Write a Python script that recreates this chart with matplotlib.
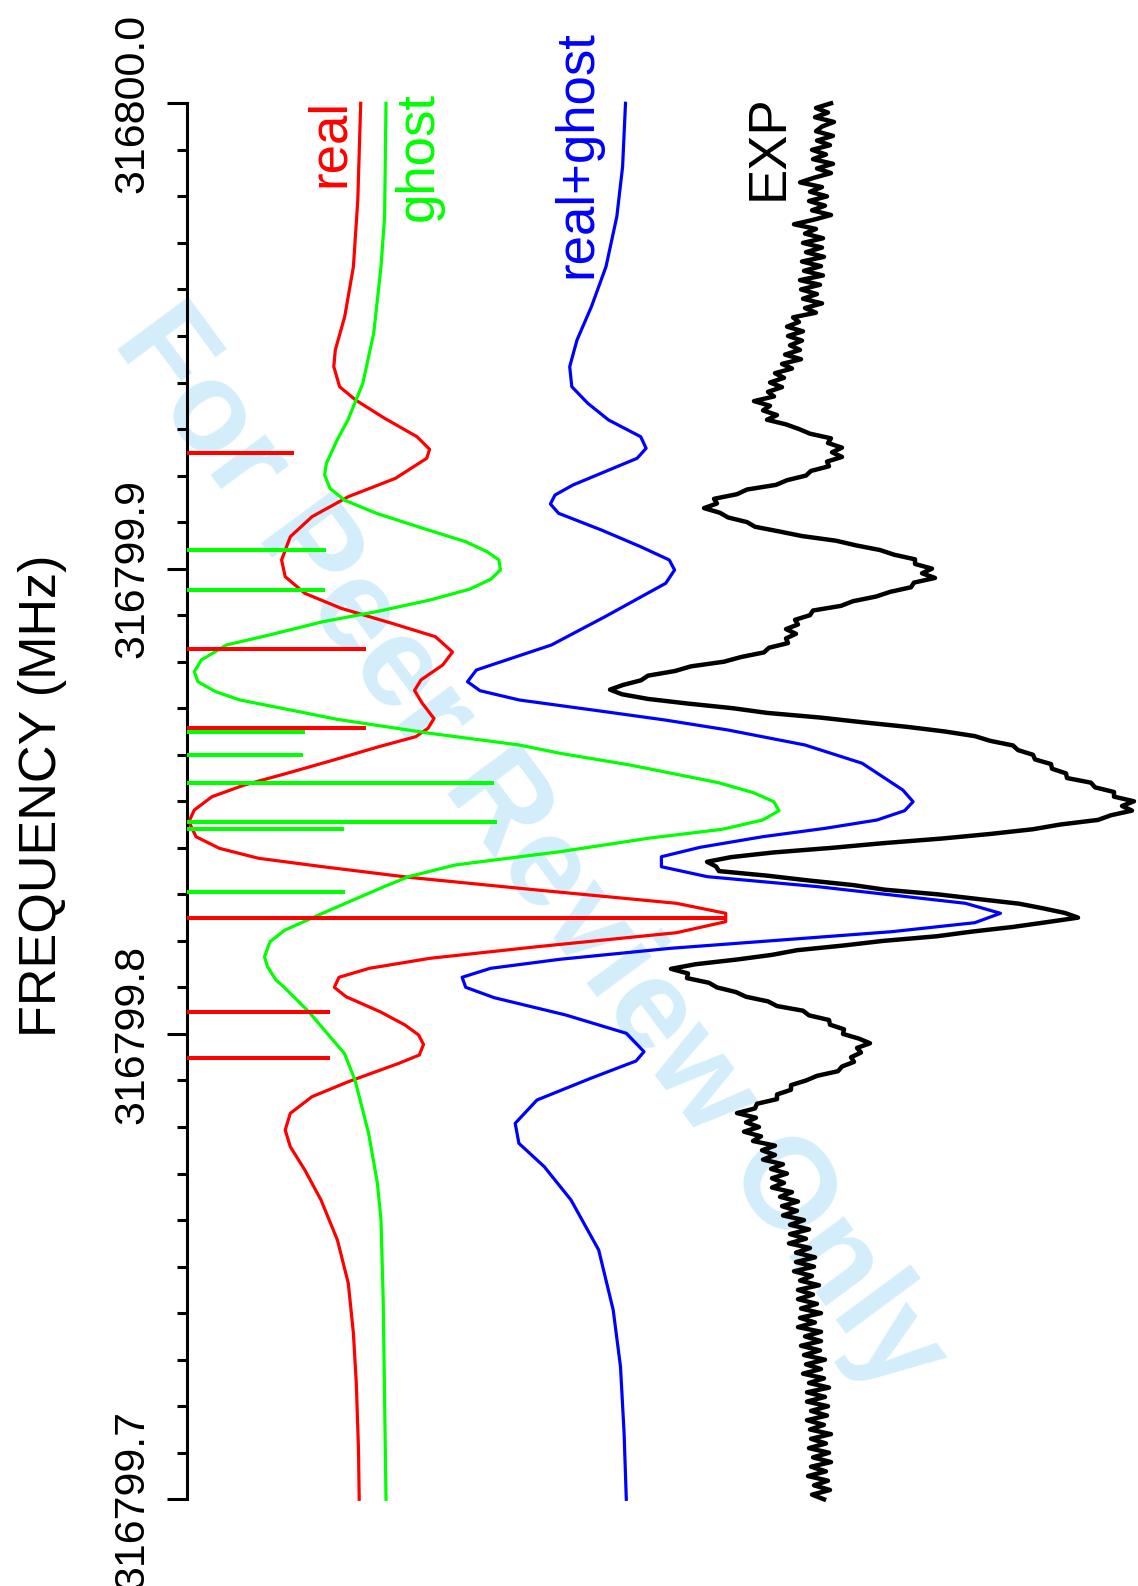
import numpy as np
import matplotlib
matplotlib.use("Agg")
import matplotlib.pyplot as plt
from matplotlib import font_manager
from matplotlib.ticker import FixedLocator, FixedFormatter

# ---------------- data ----------------
freq_min, freq_max = 316799.7, 316800.0
major_ticks = [316799.7, 316799.8, 316799.9, 316800.0]
tick_labels = ["316799.7", "316799.8", "316799.9", "316800.0"]
minor_ticks = [316799.70 + 0.01 * k for k in range(31)]

trace_names = ["real", "ghost", "real+ghost", "EXP"]
trace_colors = ["#ff0000", "#00ff00", "#0000ff", "#000000"]
trace_offsets = [173.5, 199.5, 439.5, 633.5]   # stacking offsets (a.u.)

real_spectrum = [
    (316800.00000, 0.7), (316799.97922, -2.2), (316799.96489, -6.6), (316799.95414, -15.3),
    (316799.94698, -24.7), (316799.94340, -26.2), (316799.93910, -20.4), (316799.93624, -4.4),
    (316799.93231, 24.6), (316799.92835, 57.0), (316799.92564, 69.6), (316799.92371, 66.7),
    (316799.91941, 35.5), (316799.91546, -11.7), (316799.91116, -48.0), (316799.90686, -69.7),
    (316799.90186, -78.4), (316799.89827, -74.8), (316799.89470, -55.2), (316799.89148, -19.0),
    (316799.88825, 31.9), (316799.88537, 75.4), (316799.88208, 92.5), (316799.87929, 82.7),
    (316799.87607, 60.9), (316799.87381, 54.5), (316799.87106, 62.3), (316799.86779, 74.0),
    (316799.86569, 68.0), (316799.86388, 55.7), (316799.86173, 18.7), (316799.85887, -26.4),
    (316799.85602, -73.0), (316799.85350, -115.7), (316799.85099, -148.0), (316799.84813, -165.7),
    (316799.84562, -171.1), (316799.84239, -164.0), (316799.83990, -140.7), (316799.83775, -101.4),
    (316799.83594, -37.1), (316799.83367, 48.6), (316799.83094, 177.0), (316799.82808, 316.4),
    (316799.82593, 365.7), (316799.82413, 365.7), (316799.82176, 316.4), (316799.81875, 177.0),
    (316799.81626, 70.0), (316799.81411, 9.3), (316799.81218, -21.0), (316799.81003, -25.7),
    (316799.80801, -14.0), (316799.80479, 20.0), (316799.80193, 45.0), (316799.79978, 58.6),
    (316799.79774, 63.5), (316799.79548, 59.3), (316799.79370, 39.0), (316799.78974, -11.7),
    (316799.78652, -48.0), (316799.78295, -69.7), (316799.77936, -74.8), (316799.77577, -69.7),
    (316799.77077, -55.2), (316799.76432, -39.0), (316799.75572, -22.6), (316799.74642, -11.7),
    (316799.73567, -6.6), (316799.72493, -3.7), (316799.71059, -1.5), (316799.70000, -0.8),
]

ghost_spectrum = [
    (316800.00000, 0.0), (316799.97563, -1.4), (316799.96489, -5.0), (316799.95057, -12.3),
    (316799.93983, -23.2), (316799.93194, -38.1), (316799.92764, -48.9), (316799.92264, -59.6),
    (316799.92012, -61.4), (316799.91726, -56.0), (316799.91475, -41.7), (316799.91189, -9.6),
    (316799.90867, 36.9), (316799.90579, 79.7), (316799.90364, 101.1), (316799.90186, 112.9),
    (316799.89971, 114.4), (316799.89771, 104.7), (316799.89556, 83.3), (316799.89326, 44.0),
    (316799.89075, -9.6), (316799.88860, -63.1), (316799.88574, -116.7), (316799.88359, -159.6),
    (316799.88037, -184.6), (316799.87785, -191.7), (316799.87570, -188.1), (316799.87355, -170.3),
    (316799.87177, -146.0), (316799.86977, -98.9), (316799.86762, -49.0), (316799.86461, 44.0),
    (316799.86210, 133.3), (316799.86032, 174.0), (316799.85780, 244.0), (316799.85400, 332.5),
    (316799.85185, 367.5), (316799.84991, 387.8), (316799.84798, 393.0), (316799.84598, 376.7),
    (316799.84398, 336.2), (316799.84211, 264.0), (316799.83917, 174.0), (316799.83631, 69.0),
    (316799.83380, 22.6), (316799.83165, -2.0), (316799.82664, -56.0), (316799.82234, -101.0),
    (316799.81983, -116.0), (316799.81660, -121.5), (316799.81446, -118.5), (316799.81160, -110.0),
    (316799.81016, -102.4), (316799.80472, -77.0), (316799.79941, -56.0), (316799.79585, -41.7),
    (316799.79011, -31.0), (316799.77865, -17.4), (316799.76791, -8.6), (316799.76002, -5.0),
    (316799.74283, -2.8), (316799.70000, 0.0),
]

sum_spectrum = [
    (316800.00000, -0.5), (316799.98638, -3.4), (316799.97563, -9.2), (316799.96489, -20.0),
    (316799.95629, -34.6), (316799.94913, -49.0), (316799.94340, -56.3), (316799.93910, -54.2),
    (316799.93553, -38.2), (316799.93194, -17.4), (316799.92835, 14.7), (316799.92586, 20.1),
    (316799.92371, 11.1), (316799.91797, -53.1), (316799.91582, -71.0), (316799.91389, -75.6),
    (316799.91189, -67.4), (316799.90830, -24.6), (316799.90471, 14.7), (316799.90186, 43.3),
    (316799.89971, 48.6), (316799.89685, 39.7), (316799.88967, -21.0), (316799.88359, -74.6),
    (316799.87822, -149.6), (316799.87570, -158.5), (316799.87377, -146.0), (316799.87177, -106.7),
    (316799.86926, -21.0), (316799.86747, 39.0), (316799.86532, 102.0), (316799.86210, 179.0),
    (316799.85817, 236.2), (316799.85243, 276.8), (316799.84991, 287.1), (316799.84798, 278.6),
    (316799.84598, 251.0), (316799.84420, 199.4), (316799.84239, 136.7), (316799.84011, 74.1),
    (316799.83809, 35.4), (316799.83594, 35.4), (316799.83380, 81.4), (316799.83165, 192.0),
    (316799.82808, 339.4), (316799.82593, 374.5), (316799.82391, 348.7), (316799.82198, 265.7),
    (316799.82019, 155.2), (316799.81841, 44.6), (316799.81605, -66.0), (316799.81411, -135.3),
    (316799.81218, -163.9), (316799.81003, -160.3), (316799.80779, -131.7), (316799.80408, -60.3),
    (316799.80014, 0.4), (316799.79619, 18.0), (316799.79419, 10.0), (316799.79047, -35.3),
    (316799.78581, -89.0), (316799.78080, -110.8), (316799.77650, -107.1), (316799.77147, -81.7),
    (316799.76432, -55.0), (316799.75357, -27.3), (316799.74068, -12.8), (316799.72849, -5.5),
    (316799.71418, -1.9), (316799.70000, 0.3),
]

# experimental spectrum, sampled every 0.001 MHz downward from 316800.0 MHz
exp_start, exp_step = 316800.0, 0.001
exp_intensity = [
    11, -4, 8, -5, 14, 2, -4, 13, -3, 10,
    -8, 6, -7, 13, -3, 11, -6, -20, 2, -10,
    7, -11, 5, -8, 11, -6, -26, -4, -15, 3,
    -17, 2, -14, 4, -18, 1, -16, 3, -20, 0,
    -19, -3, -17, 2, -15, -4, -27, -21, -33, -17,
    -32, -18, -30, -20, -35, -19, -38, -28, -45, -36,
    -50, -38, -52, -46, -66, -50, -57, -43, -53, -34,
    -21, -10, 11, 8, 22, 12, 22, 7, 9, -9,
    -14, -33, -44, -73, -83, -106, -103, -116, -100, -92,
    -73, -65, -41, -18, 16, 36, 60, 74, 95, 95,
    112, 102, 115, 94, 91, 70, 56, 33, 21, -7,
    -10, -25, -22, -34, -24, -34, -32, -51, -56, -79,
    -96, -129, -145, -172, -179, -197, -210, -198, -172, -132,
    -87, -53, 0, 42, 87, 125, 155, 170, 193, 198,
    213, 215, 231, 232, 246, 247, 271, 275, 294, 294,
    314, 302, 312, 291, 278, 240, 213, 171, 122, 63,
    12, -47, -89, -113, -104, -101, -52, -12, 33, 65,
    118, 158, 199, 223, 245, 258, 226, 193, 152, 117,
    63, 23, -23, -48, -83, -124, -149, -132, -133, -111,
    -103, -84, -74, -52, -43, -17, -11, 9, 10, 24,
    23, 39, 50, 37, 41, 31, 34, 22, 18, -3,
    -14, -29, -29, -43, -43, -63, -65, -83, -64, -74,
    -61, -76, -59, -67, -45, -58, -45, -57, -37, -49,
    -33, -48, -36, -48, -28, -40, -22, -38, -23, -37,
    -16, -30, -11, -30, -14, -31, -10, -24, -5, -24,
    -6, -26, -8, -20, -1, -22, -7, -22, -3, -19,
    1, -20, -5, -22, 1, -15, 1, -19, 0, -16,
    5, -14, 1, -17, 4, -11, 9, -13, 5, -13,
    8, -9, 7, -13, 4, -10, 11, -9, 6, -11,
    9, -7, 11, -9, 6, -12, 8, -6, 10, -8, 4,
]

real_stick_freq = [316799.92479, 316799.88279, 316799.86582, 316799.82486, 316799.80479, 316799.79477]
real_stick_int = [107.8, 179.9, 179.9, 539.2, 143.5, 143.5]
ghost_stick_freq = [316799.90400, 316799.89541, 316799.86496, 316799.85995,
                    316799.85400, 316799.84549, 316799.84398, 316799.83051]
ghost_stick_int = [139.2, 138.1, 118.5, 116.7, 307.8, 310.3, 157.8, 158.5]

# ---------------- figure ----------------
W, H = 1138, 1586
fig = plt.figure(figsize=(W / 100, H / 100), dpi=100)
ax_left, ax_right, ax_top, ax_bot = 186.5, 1138.0, 103.3, 1499.3
ax = fig.add_axes([ax_left / W, 1 - ax_bot / H, (ax_right - ax_left) / W, (ax_bot - ax_top) / H])
ax.set_xlim(0, ax_right - ax_left)
ax.set_ylim(freq_min, freq_max)

names = {f.name for f in font_manager.fontManager.ttflist}
main_font = "Liberation Sans" if "Liberation Sans" in names else "DejaVu Sans"
if "Liberation Sans Narrow" in names:
    tick_font, tick_size, tick_pad = "Liberation Sans Narrow", 36, 10.5
else:
    tick_font, tick_size, tick_pad = main_font, 31, 10.5

def split(pts):
    a = np.array(pts, dtype=float)
    return a[:, 0], a[:, 1]

rf, ri = split(real_spectrum)
gf, gi = split(ghost_spectrum)
sf, si = split(sum_spectrum)
ef = exp_start - exp_step * np.arange(len(exp_intensity))
ei = np.array(exp_intensity, dtype=float)

lw_curve = 2.3
ax.plot(trace_offsets[0] + ri, rf, color=trace_colors[0], lw=lw_curve, clip_on=False, zorder=3)
ax.plot(trace_offsets[1] + gi, gf, color=trace_colors[1], lw=lw_curve, clip_on=False, zorder=3)
ax.plot(trace_offsets[2] + si, sf, color=trace_colors[2], lw=lw_curve, clip_on=False, zorder=3)
ax.plot(trace_offsets[3] + ei, ef, color=trace_colors[3], lw=3.2, clip_on=False, zorder=3,
        solid_joinstyle="round")

ax.hlines(real_stick_freq, 0, real_stick_int, colors=trace_colors[0], lw=2.9, zorder=4)
ax.hlines(ghost_stick_freq, 0, ghost_stick_int, colors=trace_colors[1], lw=2.9, zorder=4)

# trace labels (rotated, reading bottom to top)
label_pos = [(157.5, 316799.98201), (246.0, 316799.97481), (404.5, 316799.96246), (596.0, 316799.97922)]
for name, col, (lx, ly) in zip(trace_names, trace_colors, label_pos):
    ax.text(lx, ly, name, color=col, rotation=90, rotation_mode="anchor", ha="left",
            va="baseline", fontsize=38, family=main_font, zorder=5)

# axis styling
for s in ["top", "right", "bottom"]:
    ax.spines[s].set_visible(False)
ax.spines["left"].set_linewidth(2.2)
ax.set_xticks([])
ax.yaxis.set_major_locator(FixedLocator(major_ticks))
ax.yaxis.set_major_formatter(FixedFormatter(tick_labels))
ax.yaxis.set_minor_locator(FixedLocator(minor_ticks))
ax.tick_params(axis="y", which="major", length=14.4, width=2.2, pad=tick_pad)
ax.tick_params(axis="y", which="minor", length=7.2, width=2.2)
for t in ax.get_yticklabels():
    t.set_rotation(90)
    t.set_va("center")
    t.set_ha("right")
    t.set_fontsize(tick_size)
    t.set_family(tick_font)

fig.text(56 / W, 1 - 796 / H, "FREQUENCY (MHz)", rotation=90, rotation_mode="anchor",
         ha="center", va="baseline", fontsize=37.5, family=main_font)

# watermark
ax.text(529 / W, 1 - 850 / H, "For Peer Review Only", transform=fig.transFigure,
        rotation=-53.5, rotation_mode="anchor", ha="center", va="center",
        fontsize=92, fontweight="bold", family=main_font, color="#d3eefa", zorder=0)

fig.savefig("out.png", dpi=100)
